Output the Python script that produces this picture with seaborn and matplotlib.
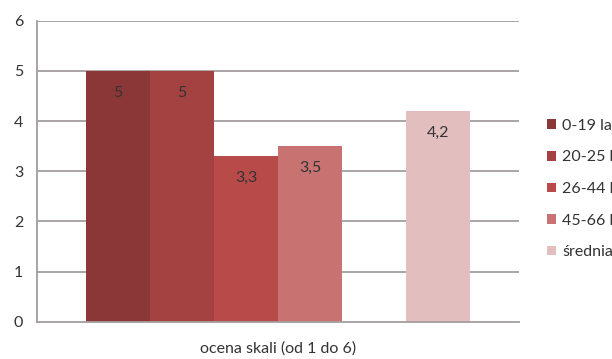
import matplotlib
matplotlib.use("Agg")
import matplotlib.pyplot as plt
import seaborn as sns
import pandas as pd

# Ocena skali (od 1 do 6) w grupach wiekowych
groups = ["0-19 lat", "20-25 lat", "26-44 lat", "45-66 lat", "średnia"]
scores = [5.0, 5.0, 3.3, 3.5, 4.2]
colors = ["#8B3737", "#A34241", "#B84B4A", "#C87272", "#E2BEBF"]
y_ticks = [0, 1, 2, 3, 4, 5, 6]
x_title = "ocena skali (od 1 do 6)"

# an empty slot separates the age groups from the average bar
slot_order = groups[:4] + [" "] + groups[4:]

df = pd.DataFrame({"grupa": groups, "ocena": scores})

sns.set_style("white")
plt.rcParams["font.family"] = ["Lato", "DejaVu Sans"]
FS = 11.5
TXT = "#333333"

fig = plt.figure(figsize=(6.12, 3.59), dpi=100)
ax = fig.add_axes([37 / 612, 1 - 321.7 / 359, (519 - 37) / 612, (321.7 - 20.7) / 359])

grid_col = "#A59D9D"
ax.set_axisbelow(True)
for v in y_ticks[1:]:
    ax.axhline(v, color=grid_col, lw=1.3, zorder=0)

sns.barplot(data=df, x="grupa", y="ocena", hue="grupa", order=slot_order,
            hue_order=groups, palette=dict(zip(groups, colors)), width=1.0,
            dodge=False, saturation=1, legend=True, ax=ax, linewidth=0)

ax.set_ylim(0, 6)
ax.set_xlim(-1.266, 6.266)
ax.set_yticks(y_ticks)
ax.set_yticklabels([str(t) for t in y_ticks], fontsize=FS, color=TXT)
ax.set_xticks([-1.266, 6.266])
ax.set_xticklabels(["", ""])
ax.tick_params(axis="both", direction="out", length=4, width=1.2, color=grid_col, pad=6)
ax.set_xlabel(x_title, fontsize=FS, color=TXT, labelpad=4)
ax.set_ylabel("")

for side in ["top", "right"]:
    ax.spines[side].set_visible(False)
for side in ["left", "bottom"]:
    ax.spines[side].set_color(grid_col)
    ax.spines[side].set_linewidth(1.3)

# value labels inside the top of each bar, decimal comma
def pl_number(v):
    return f"{v:g}".replace(".", ",")

for cont in ax.containers:
    labs = []
    for bar in cont:
        h = bar.get_height()
        labs.append("" if (h != h or h == 0) else pl_number(h))
    ax.bar_label(cont, labels=labs, padding=-21, fontsize=FS, color=TXT)

leg = ax.legend(loc="upper left", bbox_to_anchor=(1.045, 0.695), frameon=False,
                fontsize=FS, handlelength=0.55, handleheight=0.55, handletextpad=0.4,
                labelspacing=1.1, borderaxespad=0)
for t in leg.get_texts():
    t.set_color(TXT)

fig.savefig("out.png", dpi=100)
